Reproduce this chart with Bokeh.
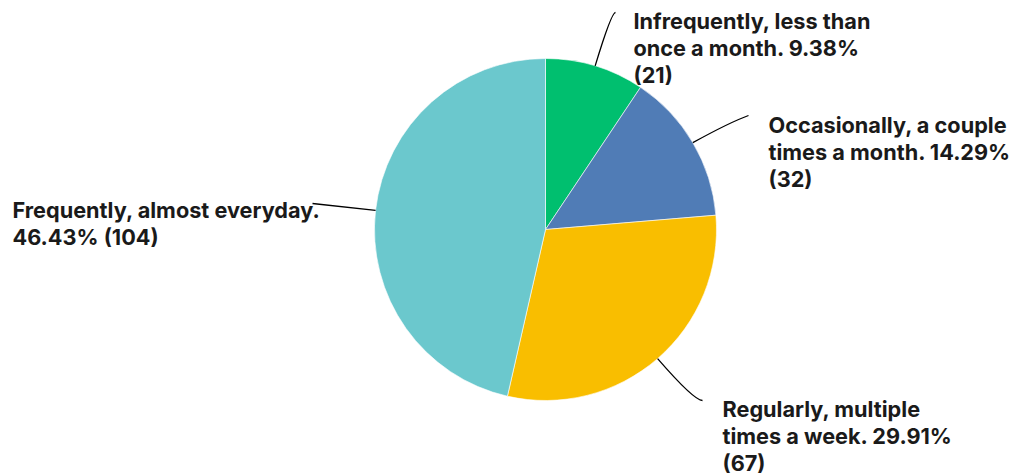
import math
from bokeh.plotting import figure
from bokeh.models import Range1d
from bokeh.core.properties import value
from bokeh.embed import file_html
from bokeh.resources import INLINE

# ---- data ----
categories = [
    "Infrequently, less than once a month.",
    "Occasionally, a couple times a month.",
    "Regularly, multiple times a week.",
    "Frequently, almost everyday.",
]
percents = [9.38, 14.29, 29.91, 46.43]
counts = [21, 32, 67, 104]
colors = ["#00BF6F", "#507CB6", "#F9BE00", "#6BC8CD"]

# label lines (text), as shown
label_lines = [
    ["Infrequently, less than", "once a month. 9.38%", "(21)"],
    ["Occasionally, a couple", "times a month. 14.29%", "(32)"],
    ["Regularly, multiple", "times a week. 29.91%", "(67)"],
    ["Frequently, almost everyday.", "46.43% (104)"],
]

# ---- layout (picture pixel coordinates) ----
W, H = 1016, 475
CX, CY, R = 545, 229, 171
label_pos = [(633, 20), (768, 124), (722, 408), (12, 209)]   # first line anchor
leader_end = [(615, 12), (748, 115), (702, 400), (312, 203)]
LINE_H = 27.3
FONT = "Inter"
FS = "21.7px"


def Y(py):
    return H - py


p = figure(width=W, height=H, output_backend="svg", toolbar_location=None,
           x_range=Range1d(0, W), y_range=Range1d(0, H),
           min_border=0)
p.axis.visible = False
p.grid.visible = False
p.outline_line_color = None
p.background_fill_color = "white"
p.border_fill_color = "white"

total = sum(percents)
cum = 0.0
for i, pct in enumerate(percents):
    f0 = cum / total
    f1 = (cum + pct) / total
    cum += pct
    a0 = math.pi / 2 - 2 * math.pi * f0
    a1 = math.pi / 2 - 2 * math.pi * f1
    p.wedge(x=CX, y=Y(CY), radius=R, start_angle=a0, end_angle=a1,
            direction="clock", fill_color=colors[i], line_color="white",
            line_width=0.6)

    # leader line from mid-angle on the edge to the label
    fm = (f0 + f1) / 2
    th = 2 * math.pi * fm
    dx, dy = math.sin(th), -math.cos(th)  # screen direction
    sx, sy = CX + R * dx, CY + R * dy
    ex, ey = leader_end[i]
    t = (ey - sy) / dy if abs(dy) > 1e-6 else 0
    t = max(0.0, t)
    qx, qy = sx + dx * t, sy + dy * t
    if i == 1:
        qx, qy = (qx + (sx + ex) / 2) / 2, (qy + (sy + ey) / 2) / 2
    c0x, c0y = sx + 2 / 3 * (qx - sx), sy + 2 / 3 * (qy - sy)
    c1x, c1y = ex + 2 / 3 * (qx - ex), ey + 2 / 3 * (qy - ey)
    p.bezier(x0=sx, y0=Y(sy), x1=ex, y1=Y(ey), cx0=c0x, cy0=Y(c0y),
             cx1=c1x, cy1=Y(c1y), line_color="black", line_width=1.3)

    lx, ly = label_pos[i]
    for k, line in enumerate(label_lines[i]):
        p.text(x=lx, y=Y(ly + k * LINE_H), text=[line],
               text_font=value(FONT), text_font_size=FS,
               text_font_style="bold", text_color="#1a1a1a",
               text_baseline="alphabetic", text_align="left")

open("out.html", "w").write(file_html(p, INLINE))
